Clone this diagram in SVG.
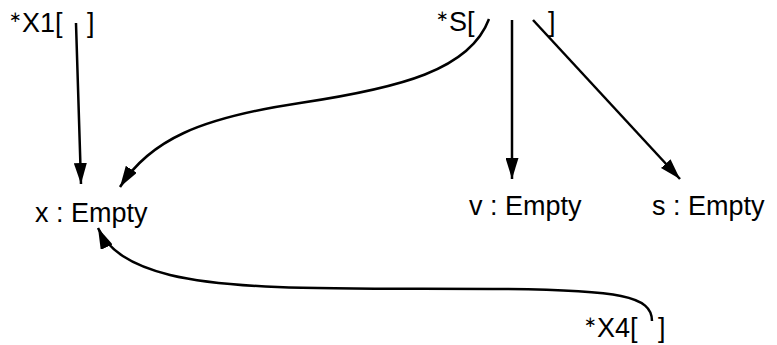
<svg xmlns="http://www.w3.org/2000/svg" width="777" height="345" viewBox="0 0 777 345">
<style>
text{font-family:"Liberation Sans",Arial,sans-serif;font-size:27px;fill:#000}
.st{font-size:15px}
.c{fill:none;stroke:#000;stroke-width:2.5}
</style>
<defs>
<marker id="h" markerUnits="userSpaceOnUse" markerWidth="22" markerHeight="13" refX="21" refY="6.5" orient="auto">
<path d="M0,0 L21,6.5 L0,13 z" fill="#000"/>
</marker>
</defs>
<rect width="777" height="345" fill="#fff"/>
<g id="X1"><text x="9" y="32"><tspan class="st" dy="-10">∗</tspan><tspan dy="10">X1[</tspan></text><text x="87" y="32">]</text></g>
<g id="S"><text x="436" y="31"><tspan class="st" dy="-10">∗</tspan><tspan dy="10">S[</tspan></text><text x="548" y="31">]</text></g>
<g id="x"><text x="35" y="222">x : Empty</text></g>
<g id="v"><text x="469" y="215">v : Empty</text></g>
<g id="s"><text x="652" y="215">s : Empty</text></g>
<g id="X4"><text x="584" y="337"><tspan class="st" dy="-10">∗</tspan><tspan dy="10">X4[</tspan></text><text x="658" y="337">]</text></g>
<g id="connectors">
<path class="c" d="M76,23 L81,184" marker-end="url(#h)"/>
<path class="c" d="M489,19 C470,70 400,88 300,103 C200,118 150,140 120,187" marker-end="url(#h)"/>
<path class="c" d="M512,20 L512,179" marker-end="url(#h)"/>
<path class="c" d="M533,20 L680,179" marker-end="url(#h)"/>
<path class="c" d="M652,321 C652,296 620,290 500,289 C360,288 240,292 170,275 C130,265 108,250 98,228" marker-end="url(#h)"/>
</g>
</svg>
